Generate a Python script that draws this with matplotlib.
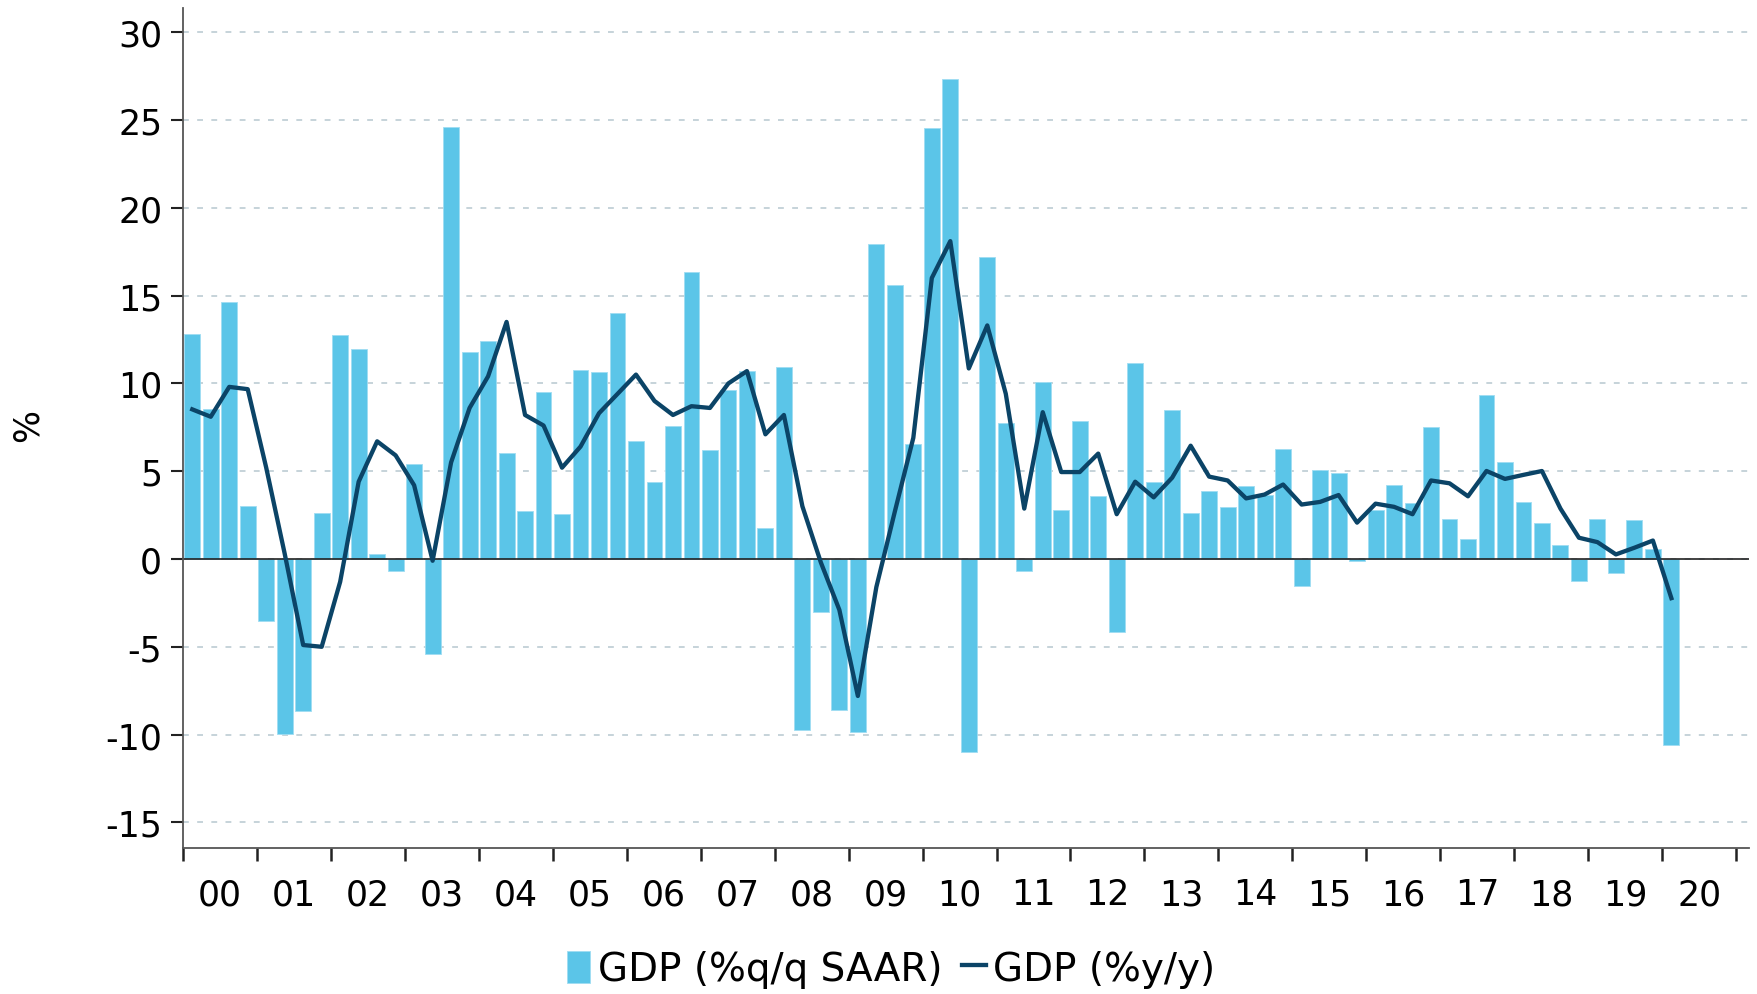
import numpy as np
import matplotlib
matplotlib.use("Agg")
import matplotlib.pyplot as plt

# quarterly data 2000Q1 .. 2020Q1
gdp_qq = [12.83, 8.52, 14.61, 3.03, -3.51, -9.99, -8.65, 2.62, 12.73, 11.97,
          0.26, -0.67, 5.42, -5.39, 24.6, 11.8, 12.44, 6.03, 2.74, 9.51,
          2.55, 10.78, 10.66, 13.98, 6.73, 4.4, 7.59, 16.34, 6.22, 9.64,
          10.69, 1.79, 10.91, -9.73, -3.0, -8.58, -9.86, 17.93, 15.6, 6.57,
          24.57, 27.31, -11.0, 17.17, 7.75, -0.7, 10.05, 2.78, 7.88, 3.57,
          -4.18, 11.17, 4.4, 8.46, 2.62, 3.89, 2.94, 4.15, 3.64, 6.25,
          -1.56, 5.04, 4.91, -0.1, 2.81, 4.21, 3.19, 7.5, 2.3, 1.12,
          9.32, 5.52, 3.25, 2.07, 0.8, -1.28, 2.3, -0.77, 2.23, 0.57,
          -10.6]
gdp_yy = [8.52, 8.1, 9.8, 9.67, 5.2, 0.3, -4.9, -5.0, -1.3, 4.4,
          6.7, 5.9, 4.2, -0.1, 5.5, 8.6, 10.4, 13.5, 8.2, 7.6,
          5.2, 6.4, 8.3, 9.4, 10.5, 9.0, 8.2, 8.7, 8.6, 10.0,
          10.7, 7.1, 8.2, 3.0, -0.2, -2.9, -7.8, -1.6, 2.7, 6.9,
          16.0, 18.1, 10.85, 13.3, 9.41, 2.87, 8.36, 4.95, 4.95, 6.0,
          2.55, 4.4, 3.51, 4.63, 6.45, 4.69, 4.47, 3.45, 3.67, 4.24,
          3.1, 3.25, 3.64, 2.07, 3.15, 2.97, 2.55, 4.47, 4.31, 3.57,
          5.01, 4.56, 4.79, 5.01, 2.87, 1.21, 0.96, 0.26, 0.64, 1.05,
          -2.23]
year_labels = ["00", "01", "02", "03", "04", "05", "06", "07", "08", "09", "10",
               "11", "12", "13", "14", "15", "16", "17", "18", "19", "20"]

bar_color = "#5BC5E8"
line_color = "#0B4467"
grid_color = "#BCCCD3"

plt.rcParams['font.family'] = ['DejaVu Sans']
plt.rcParams['axes.unicode_minus'] = False

fig = plt.figure(figsize=(17.58, 9.95), dpi=100)
ax = fig.add_axes([0.1041, 0.1467, 0.8908, 0.8438])

x = np.arange(len(gdp_qq))
bars = ax.bar(x, gdp_qq, width=0.86, color=bar_color, edgecolor="#9FDDF2", linewidth=0.6,
              label="GDP (%q/q SAAR)", zorder=2)
line, = ax.plot(x, gdp_yy, color=line_color, lw=3.1, label="GDP (%y/y)", zorder=3)
ax.axhline(0, color="#222222", lw=1.2, zorder=2.5)

ax.set_ylim(-16.46, 31.35)
ax.set_xlim(-0.5, 84.2)
ax.set_yticks(np.arange(-15, 31, 5))
ax.yaxis.grid(True, color=grid_color, lw=1.2, linestyle=(0, (3.5, 5)), zorder=0)
ax.set_axisbelow(True)

# year boundary ticks, labels centred in each year
nyears = len(year_labels)
ax.set_xticks(np.arange(0, nyears + 1) * 4 - 0.5)
ax.set_xticklabels([])
ax.set_xticks(np.arange(nyears) * 4 + 1.5, minor=True)
ax.set_xticklabels(year_labels, minor=True)
ax.tick_params(axis="x", which="major", length=9, width=1.8, color="#222222", direction="out")
ax.tick_params(axis="x", which="minor", length=0, pad=21, labelsize=25)
ax.tick_params(axis="y", length=9, width=1.5, color="#222222", labelsize=25, pad=6)

for s in ["top", "right"]:
    ax.spines[s].set_visible(False)
ax.spines["left"].set_color("#555555")
ax.spines["bottom"].set_color("#555555")
ax.spines["left"].set_linewidth(1.3)
ax.spines["bottom"].set_linewidth(1.3)

fig.text(28 / 1758, 1 - 426 / 995, "%", fontsize=25, rotation=90,
         ha="center", va="center")

fig.legend([bars, line], ["GDP (%q/q SAAR)", "GDP (%y/y)"],
           loc="center", bbox_to_anchor=(0.507, 0.025), ncol=2, frameon=False,
           prop={"family": ["DejaVu Sans Condensed", "DejaVu Sans"], "size": 28},
           handlelength=0.6, handleheight=0.9, handletextpad=0.2,
           columnspacing=0.5)

fig.savefig("out.png", dpi=100)
